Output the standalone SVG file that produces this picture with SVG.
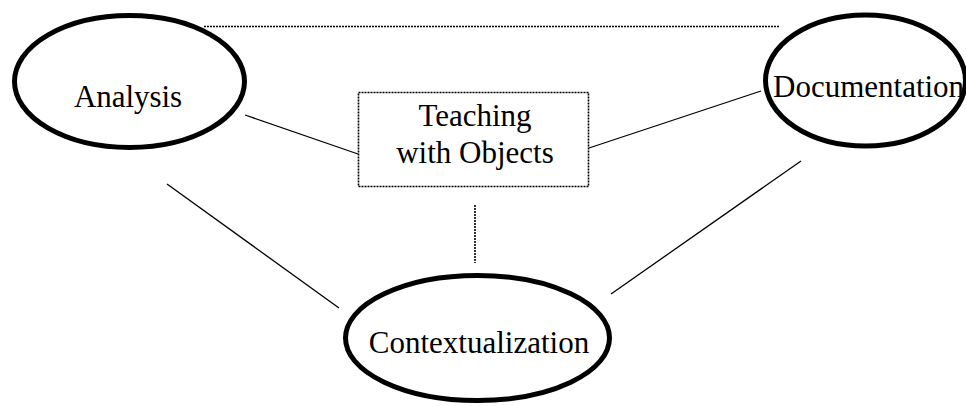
<svg xmlns="http://www.w3.org/2000/svg" width="966" height="406" viewBox="0 0 966 406">
<style>
.node ellipse{fill:#fff;stroke:#000;stroke-width:5}
.lbl{font-family:"Liberation Serif","Times New Roman",serif;font-size:31px;fill:#000}
.dot{stroke:#000;stroke-width:1.6;stroke-dasharray:2 1;fill:none}
.ln{stroke:#000;stroke-width:1.3;fill:none}
</style>
<rect width="966" height="406" fill="#fff"/>
<g id="connectors">
<line class="dot" x1="204" y1="26.5" x2="779" y2="26.5"/>
<line class="ln" x1="245" y1="115" x2="358" y2="154"/>
<line class="ln" x1="589" y1="148" x2="761" y2="91"/>
<line class="dot" x1="475" y1="205" x2="475" y2="263"/>
<line class="ln" x1="167" y1="184" x2="339" y2="308"/>
<line class="ln" x1="611" y1="294" x2="801" y2="161"/>
</g>
<g id="analysis" class="node">
<ellipse cx="129.5" cy="81.5" rx="115" ry="66"/>
<text class="lbl" x="74" y="107" textLength="108" lengthAdjust="spacing">Analysis</text>
</g>
<g id="documentation" class="node">
<ellipse cx="865.5" cy="80.5" rx="100" ry="65.5"/>
<text class="lbl" x="773" y="97">Documentation</text>
</g>
<g id="teaching" class="node">
<rect class="dot" x="358.5" y="92.5" width="230" height="94" fill="#fff"/>
<text class="lbl" x="475" y="126" text-anchor="middle">Teaching</text>
<text class="lbl" x="475" y="163" text-anchor="middle">with Objects</text>
</g>
<g id="contextualization" class="node">
<ellipse cx="477.5" cy="338" rx="132" ry="62.5"/>
<text class="lbl" x="479" y="353" text-anchor="middle">Contextualization</text>
</g>
</svg>
